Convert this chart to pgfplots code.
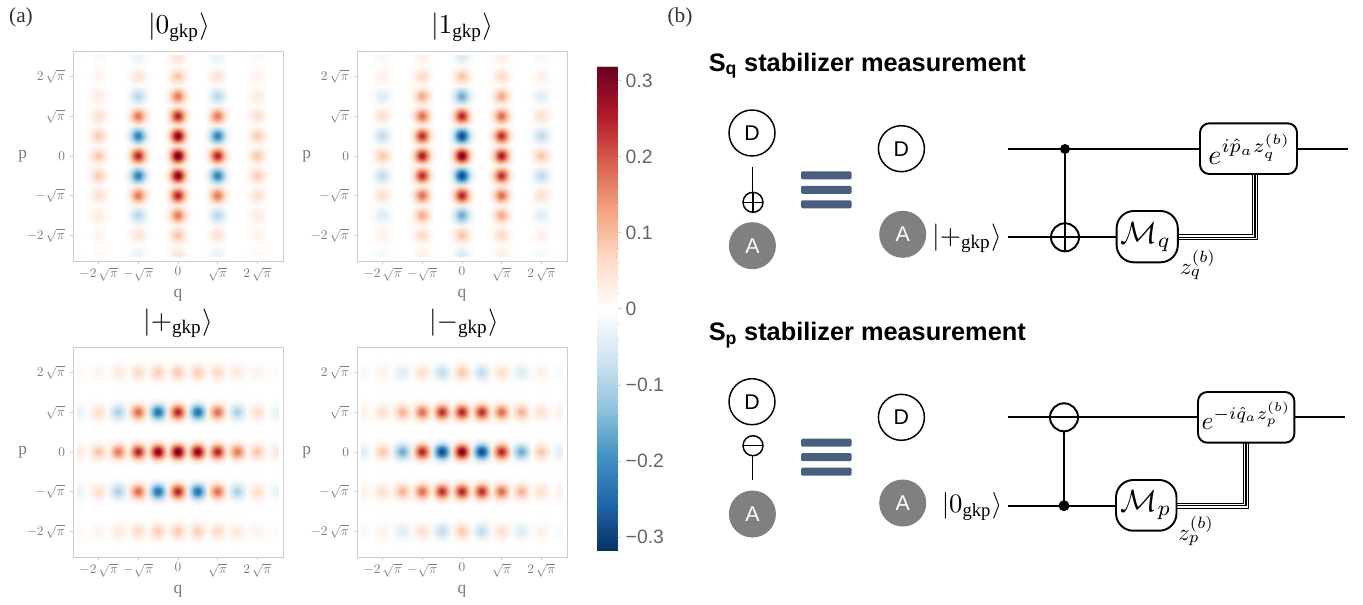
\documentclass[border=0pt]{standalone}
\usepackage{pgfplots}
\usepackage{pgfplotstable}
\usepackage{fontspec}
\pgfplotsset{compat=1.18}
\setmainfont{Liberation Serif}
\newfontfamily\hv{Liberation Sans}
\definecolor{tickgray}{HTML}{7A7A7A}
\definecolor{framegray}{HTML}{CCCCCC}
\definecolor{barblue}{HTML}{4A5F80}
\definecolor{cbtext}{HTML}{666666}
\definecolor{agray}{HTML}{808080}
\pgfplotsset{colormap={rdbu}{rgb255=(5,48,97) rgb255=(33,102,172) rgb255=(67,147,195) rgb255=(146,197,222) rgb255=(209,229,240) rgb255=(255,255,255) rgb255=(253,219,199) rgb255=(244,165,130) rgb255=(214,96,77) rgb255=(178,24,43) rgb255=(103,0,31)}}
% blob tables: centre (in units of sqrt(pi)) and value of the Wigner function there
\pgfplotstableread[row sep=\\]{
x y v\\
0 -2.5 .05\\ 0 -2 .09\\ 0 -1.5 .17\\ 0 -1 .25\\ 0 -.5 .30\\ 0 0 .32\\ 0 .5 .30\\ 0 1 .25\\ 0 1.5 .17\\ 0 2 .09\\ 0 2.5 .05\\
-1 -2.5 -.03\\ -1 -2 .05\\ -1 -1.5 -.09\\ -1 -1 .17\\ -1 -.5 -.22\\ -1 0 .25\\ -1 .5 -.22\\ -1 1 .17\\ -1 1.5 -.09\\ -1 2 .05\\ -1 2.5 -.03\\
1 -2.5 -.03\\ 1 -2 .05\\ 1 -1.5 -.09\\ 1 -1 .17\\ 1 -.5 -.22\\ 1 0 .25\\ 1 .5 -.22\\ 1 1 .17\\ 1 1.5 -.09\\ 1 2 .05\\ 1 2.5 -.03\\
-2 -2.5 .012\\ -2 -2 .02\\ -2 -1.5 .035\\ -2 -1 .055\\ -2 -.5 .08\\ -2 0 .085\\ -2 .5 .08\\ -2 1 .055\\ -2 1.5 .035\\ -2 2 .02\\ -2 2.5 .012\\
2 -2.5 .012\\ 2 -2 .02\\ 2 -1.5 .035\\ 2 -1 .055\\ 2 -.5 .08\\ 2 0 .085\\ 2 .5 .08\\ 2 1 .055\\ 2 1.5 .035\\ 2 2 .02\\ 2 2.5 .012\\
}\tabA
\pgfplotstableread[row sep=\\]{
x y v\\
0 -2.5 -.05\\ 0 -2 .09\\ 0 -1.5 -.16\\ 0 -1 .25\\ 0 -.5 -.29\\ 0 0 .31\\ 0 .5 -.29\\ 0 1 .25\\ 0 1.5 -.16\\ 0 2 .09\\ 0 2.5 -.05\\
-1 -2.5 .03\\ -1 -2 .06\\ -1 -1.5 .12\\ -1 -1 .18\\ -1 -.5 .24\\ -1 0 .26\\ -1 .5 .24\\ -1 1 .18\\ -1 1.5 .12\\ -1 2 .06\\ -1 2.5 .03\\
1 -2.5 .03\\ 1 -2 .06\\ 1 -1.5 .12\\ 1 -1 .18\\ 1 -.5 .24\\ 1 0 .26\\ 1 .5 .24\\ 1 1 .18\\ 1 1.5 .12\\ 1 2 .06\\ 1 2.5 .03\\
-2 -2.5 -.015\\ -2 -2 .025\\ -2 -1.5 -.045\\ -2 -1 .055\\ -2 -.5 -.08\\ -2 0 .085\\ -2 .5 -.08\\ -2 1 .055\\ -2 1.5 -.045\\ -2 2 .025\\ -2 2.5 -.015\\
2 -2.5 -.015\\ 2 -2 .025\\ 2 -1.5 -.045\\ 2 -1 .055\\ 2 -.5 -.08\\ 2 0 .085\\ 2 .5 -.08\\ 2 1 .055\\ 2 1.5 -.045\\ 2 2 .025\\ 2 2.5 -.015\\
}\tabB
\pgfplotstableread[row sep=\\]{
x y v\\
-2.5 0 .04\\ -2 0 .09\\ -1.5 0 .17\\ -1 0 .25\\ -.5 0 .30\\ 0 0 .32\\ .5 0 .30\\ 1 0 .25\\ 1.5 0 .17\\ 2 0 .09\\ 2.5 0 .04\\
-2.5 1 -.03\\ -2 1 .055\\ -1.5 1 -.10\\ -1 1 .18\\ -.5 1 -.24\\ 0 1 .25\\ .5 1 -.24\\ 1 1 .18\\ 1.5 1 -.10\\ 2 1 .055\\ 2.5 1 -.03\\
-2.5 -1 -.03\\ -2 -1 .055\\ -1.5 -1 -.10\\ -1 -1 .18\\ -.5 -1 -.24\\ 0 -1 .25\\ .5 -1 -.24\\ 1 -1 .18\\ 1.5 -1 -.10\\ 2 -1 .055\\ 2.5 -1 -.03\\
-2.5 2 .012\\ -2 2 .02\\ -1.5 2 .04\\ -1 2 .06\\ -.5 2 .08\\ 0 2 .085\\ .5 2 .08\\ 1 2 .06\\ 1.5 2 .04\\ 2 2 .02\\ 2.5 2 .012\\
-2.5 -2 .012\\ -2 -2 .02\\ -1.5 -2 .04\\ -1 -2 .06\\ -.5 -2 .08\\ 0 -2 .085\\ .5 -2 .08\\ 1 -2 .06\\ 1.5 -2 .04\\ 2 -2 .02\\ 2.5 -2 .012\\
}\tabC
\pgfplotstableread[row sep=\\]{
x y v\\
-2.5 0 -.04\\ -2 0 .085\\ -1.5 0 -.16\\ -1 0 .25\\ -.5 0 -.29\\ 0 0 .31\\ .5 0 -.29\\ 1 0 .25\\ 1.5 0 -.16\\ 2 0 .085\\ 2.5 0 -.04\\
-2.5 1 .025\\ -2 1 .055\\ -1.5 1 .11\\ -1 1 .18\\ -.5 1 .24\\ 0 1 .25\\ .5 1 .24\\ 1 1 .18\\ 1.5 1 .11\\ 2 1 .055\\ 2.5 1 .025\\
-2.5 -1 .025\\ -2 -1 .055\\ -1.5 -1 .11\\ -1 -1 .18\\ -.5 -1 .24\\ 0 -1 .25\\ .5 -1 .24\\ 1 -1 .18\\ 1.5 -1 .11\\ 2 -1 .055\\ 2.5 -1 .025\\
-2.5 2 -.015\\ -2 2 .025\\ -1.5 2 -.045\\ -1 2 .055\\ -.5 2 -.08\\ 0 2 .085\\ .5 2 -.08\\ 1 2 .055\\ 1.5 2 -.045\\ 2 2 .025\\ 2.5 2 -.015\\
-2.5 -2 -.015\\ -2 -2 .025\\ -1.5 -2 -.045\\ -1 -2 .055\\ -.5 -2 -.08\\ 0 -2 .085\\ .5 -2 -.08\\ 1 -2 .055\\ 1.5 -2 -.045\\ 2 -2 .025\\ 2.5 -2 -.015\\
}\tabD
\newcommand\lay[3]{\addplot[scatter,only marks,mark=*,mark size=#2pt,
  scatter/use mapped color={draw=mapped color,fill=mapped color},
  point meta=\thisrow{v}*#3] table[x=x,y=y] {#1};}
\newcommand\blobs[1]{%
  \lay{#1}{11.25}{.024}\lay{#1}{10.1}{.049}\lay{#1}{9}{.093}\lay{#1}{7.9}{.161}%
  \lay{#1}{6.75}{.262}\lay{#1}{6}{.347}\lay{#1}{5.25}{.445}\lay{#1}{4.5}{.552}%
  \lay{#1}{3.75}{.662}\lay{#1}{3}{.768}\lay{#1}{2.25}{.862}\lay{#1}{1.5}{.936}\lay{#1}{.75}{.984}}
\pgfplotsset{wig/.style={
  width=157.5pt,height=157.5pt,scale only axis,anchor=south west,
  xmin=-2.645,xmax=2.645,ymin=-2.645,ymax=2.645,
  clip marker paths=true,
  colormap name=rdbu,point meta min=-.32,point meta max=.32,
  xtick={-2,-1,0,1,2},ytick={-2,-1,0,1,2},
  xticklabels={$-2\,\sqrt{\pi}$,$-\sqrt{\pi}$,$0$,$\sqrt{\pi}$,$2\,\sqrt{\pi}$},
  yticklabels={$-2\,\sqrt{\pi}$,$-\sqrt{\pi}$,$0$,$\sqrt{\pi}$,$2\,\sqrt{\pi}$},
  xtick pos=bottom,ytick pos=left,tick align=outside,major tick length=2pt,
  tick style={draw=framegray,line width=.5pt},
  axis line style={draw=framegray,line width=.6pt},
  tick label style={font=\fontsize{10}{11}\selectfont,text=tickgray},
  xticklabel style={yshift=1pt},
  yticklabel style={xshift=-.5pt},
  xlabel={q},ylabel={p},
  label style={font=\fontsize{13}{14}\selectfont,text=tickgray},
  xlabel style={at={(axis description cs:.5,-.162)},anchor=center},
  ylabel style={at={(axis description cs:-.24,.5)},anchor=center,rotate=-90},
}}
\begin{document}
\begin{tikzpicture}[x=.75pt,y=-.75pt]
\path (0,0) rectangle (1363,604);
% panels
\begin{axis}[wig,at={(54.75pt,-195.75pt)}]
\clip (axis cs:-2.53,-2.53) rectangle (axis cs:2.53,2.53);
\blobs{\tabA}
\end{axis}
\begin{axis}[wig,at={(267.75pt,-195.75pt)}]
\clip (axis cs:-2.53,-2.53) rectangle (axis cs:2.53,2.53);
\blobs{\tabB}
\end{axis}
\begin{axis}[wig,at={(54.75pt,-417.75pt)}]
\clip (axis cs:-2.53,-2.53) rectangle (axis cs:2.53,2.53);
\blobs{\tabC}
\end{axis}
\begin{axis}[wig,at={(267.75pt,-417.75pt)}]
\clip (axis cs:-2.53,-2.53) rectangle (axis cs:2.53,2.53);
\blobs{\tabD}
\end{axis}
% colour bar
\begin{axis}[width=15.5pt,height=363pt,scale only axis,anchor=south west,at={(447.75pt,-413pt)},
  xmin=0,xmax=1,ymin=-.318,ymax=.318,xtick=\empty,
  ytick={-.3,-.2,-.1,0,.1,.2,.3},yticklabels={−0.3,−0.2,−0.1,0,0.1,0.2,0.3},
  minor ytick={-.28,-.26,-.24,-.22,-.18,-.16,-.14,-.12,-.08,-.06,-.04,-.02,.02,.04,.06,.08,.12,.14,.16,.18,.22,.24,.26,.28},
  ytick pos=right,yticklabel pos=right,tick align=outside,major tick length=2.5pt,minor tick length=1.2pt,
  tick style={draw=framegray,line width=.4pt},
  axis line style={draw=framegray,line width=.3pt},
  tick label style={font=\hv\fontsize{14.5}{16}\selectfont,text=cbtext},
  colormap name=rdbu,point meta min=-.32,point meta max=.32]
\addplot[surf,shader=interp,point meta=y] coordinates {
(0,-.318) (1,-.318)

(0,.318) (1,.318)
};
\end{axis}
% titles and panel letters
\node[scale=2.05] at (179,27) {$|0_{\mathrm{gkp}}\rangle$};
\node[scale=2.05] at (462,27) {$|1_{\mathrm{gkp}}\rangle$};
\node[scale=2.05] at (178,323) {$|{+}_{\mathrm{gkp}}\rangle$};
\node[scale=2.05] at (464,323) {$|{-}_{\mathrm{gkp}}\rangle$};
\node[font=\fontsize{16}{18}\selectfont,text=black!80] at (21,17) {(a)};
\node[font=\fontsize{16}{18}\selectfont,text=black!80] at (680,17) {(b)};
% headings
\node[anchor=west,font=\hv\bfseries\fontsize{19}{21}\selectfont,inner sep=0] at (708.5,65.5) {S\textsubscript{q} stabilizer measurement};
\node[anchor=west,font=\hv\bfseries\fontsize{19}{21}\selectfont,inner sep=0] at (708.5,335) {S\textsubscript{p} stabilizer measurement};
% circuit helpers
\tikzset{wire/.style={line width=1.45pt},thin wire/.style={line width=1.1pt}}
\newcommand\qD[2]{\draw[thin wire,fill=white] (#1,#2) circle [radius=23];
  \node[font=\hv\fontsize{16}{18}\selectfont] at (#1,#2) {D};}
\newcommand\qA[2]{\fill[agray] (#1,#2) circle [radius=23.5];
  \node[font=\hv\fontsize{16}{18}\selectfont,text=white] at (#1,#2) {A};}
\newcommand\bars[1]{\foreach \yy in {0,14.5,29}{\fill[barblue,rounded corners=1pt] (801,#1+\yy-4) rectangle (851.6,#1+\yy+4);}}
\newcommand\triple[1]{\draw[line join=miter,line width=4.6pt] #1;\draw[line join=miter,line width=3.2pt,white] #1;\draw[line join=miter,line width=.8pt] #1;}
% S_q
\qD{752}{133}\qA{752.4}{245.7}
\draw[thin wire] (752.7,167)--(752.7,192);
\draw[thin wire] (753,202.3) circle [radius=10];
\draw[thin wire] (743,202.3)--(763,202.3) (753,192.3)--(753,212.3);
\bars{175.3}
\qD{901.4}{148.7}\qA{902.7}{234.3}
\node[scale=2.05] at (967,238) {$|{+}_{\mathrm{gkp}}\rangle$};
\draw[wire] (1008.4,149)--(1200,149) (1297,149)--(1348,149);
\draw[wire] (1008.4,237.3)--(1116.6,237.3);
\draw[wire] (1065,149)--(1065,237.3);
\fill (1065,149) circle [radius=5];
\draw[wire] (1065,237.3) circle [radius=14];
\draw[wire] (1051,237.3)--(1079,237.3) (1065,223.3)--(1065,251.3);
\triple{(1177.8,237.2)--(1255,237.2)--(1255,174)}
\draw[wire,fill=white,rounded corners=7pt] (1200,123.3) rectangle (1297,174);
\draw[wire,fill=white,rounded corners=13pt] (1116.6,211) rectangle (1177.8,262.3);
\node[scale=2.1] at (1250,149) {$e^{i\hat p_a z_q^{(b)}}$};
\node[scale=2.3] at (1146,237) {$\mathcal{M}_q$};
\node[scale=1.75] at (1198,265) {$z_q^{(b)}$};
% S_p
\qD{752}{401.7}\qA{752.4}{514}
\draw[thin wire] (752.7,456)--(752.7,480);
\draw[thin wire] (753,445.7) circle [radius=10];
\draw[thin wire] (743,445.7)--(763,445.7);
\bars{442.7}
\qD{901.4}{417.3}\qA{902.7}{503}
\node[scale=2] at (972,506.7) {$|0_{\mathrm{gkp}}\rangle$};
\draw[wire] (1008.4,417.3)--(1198,417.3) (1294.4,417.3)--(1345,417.3);
\draw[wire] (1008.4,505.7)--(1116,505.7);
\draw[wire] (1064,431.3)--(1064,505.7);
\draw[wire] (1064,417.3) circle [radius=14];
\fill (1064,505.7) circle [radius=5.5];
\triple{(1176.5,505.7)--(1246,505.7)--(1246,442.7)}
\draw[wire,fill=white,rounded corners=7pt] (1198,392) rectangle (1294.4,442.7);
\draw[wire,fill=white,rounded corners=13pt] (1116,480) rectangle (1176.5,530.7);
\node[scale=1.9] at (1246.5,416) {$e^{-i\hat q_a z_p^{(b)}}$};
\node[scale=2.3] at (1146,505) {$\mathcal{M}_p$};
\node[scale=1.75] at (1196,531) {$z_p^{(b)}$};
\end{tikzpicture}
\end{document}
